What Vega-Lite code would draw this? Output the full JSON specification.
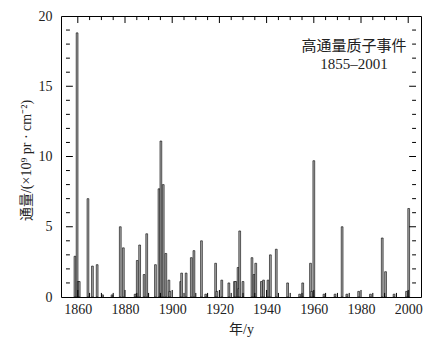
{
  "$schema": "https://vega.github.io/schema/vega-lite/v6.json",
  "width": 360,
  "height": 281,
  "autosize": {"type": "none"},
  "padding": {"left": 61, "top": 16, "right": 7, "bottom": 46},
  "background": "white",
  "config": {
    "view": {"stroke": "#000", "strokeWidth": 1},
    "font": "Liberation Serif, Noto Sans CJK SC",
    "axis": {
      "grid": false,
      "domain": false,
      "ticks": false,
      "labelOverlap": false,
      "labelColor": "#222",
      "labelFont": "Liberation Serif, Noto Sans CJK SC",
      "labelFontSize": 14,
      "titleFont": "Liberation Serif, Noto Sans CJK SC",
      "titleFontSize": 14,
      "titleFontWeight": "normal",
      "titleColor": "#222"
    },
    "rule": {"stroke": "#000", "strokeWidth": 1}
  },
  "datasets": {
    "events": [
      {"year": 1858.8, "flux": 2.9},
      {"year": 1859.7, "flux": 18.8},
      {"year": 1860.2, "flux": 1.1},
      {"year": 1860.6, "flux": 1.1},
      {"year": 1864.3, "flux": 7.0},
      {"year": 1866.2, "flux": 2.2},
      {"year": 1868.2, "flux": 2.3},
      {"year": 1870.5, "flux": 0.15},
      {"year": 1874.5, "flux": 0.15},
      {"year": 1878.0, "flux": 5.0},
      {"year": 1879.3, "flux": 3.5},
      {"year": 1884.3, "flux": 0.2},
      {"year": 1885.2, "flux": 2.6},
      {"year": 1886.2, "flux": 3.7},
      {"year": 1888.1, "flux": 1.6},
      {"year": 1889.2, "flux": 4.5},
      {"year": 1892.9, "flux": 2.3},
      {"year": 1894.4, "flux": 7.7},
      {"year": 1895.2, "flux": 11.1},
      {"year": 1896.2, "flux": 8.0},
      {"year": 1897.3, "flux": 3.1},
      {"year": 1898.6, "flux": 1.2},
      {"year": 1899.0, "flux": 0.4},
      {"year": 1903.6, "flux": 1.1},
      {"year": 1904.0, "flux": 1.7},
      {"year": 1905.9, "flux": 1.7},
      {"year": 1908.1, "flux": 2.8},
      {"year": 1909.2, "flux": 3.3},
      {"year": 1912.4, "flux": 4.0},
      {"year": 1914.2, "flux": 0.2},
      {"year": 1918.4, "flux": 2.4},
      {"year": 1918.9, "flux": 0.4},
      {"year": 1921.0, "flux": 1.2},
      {"year": 1924.0, "flux": 1.0},
      {"year": 1926.4, "flux": 1.1},
      {"year": 1926.9, "flux": 1.1},
      {"year": 1927.9, "flux": 2.1},
      {"year": 1928.2, "flux": 0.6},
      {"year": 1928.6, "flux": 4.7},
      {"year": 1930.0, "flux": 1.1},
      {"year": 1933.8, "flux": 2.8},
      {"year": 1934.7, "flux": 1.6},
      {"year": 1935.4, "flux": 2.4},
      {"year": 1937.8, "flux": 1.1},
      {"year": 1938.7, "flux": 1.2},
      {"year": 1940.6, "flux": 1.2},
      {"year": 1941.6, "flux": 3.0},
      {"year": 1944.1, "flux": 3.4},
      {"year": 1948.9, "flux": 1.0},
      {"year": 1954.0, "flux": 0.2},
      {"year": 1955.3, "flux": 1.0},
      {"year": 1958.6, "flux": 2.4},
      {"year": 1959.1, "flux": 0.4},
      {"year": 1960.0, "flux": 9.7},
      {"year": 1964.3, "flux": 0.2},
      {"year": 1969.0, "flux": 0.2},
      {"year": 1972.0, "flux": 5.0},
      {"year": 1974.0, "flux": 0.2},
      {"year": 1979.0, "flux": 0.4},
      {"year": 1984.0, "flux": 0.2},
      {"year": 1989.0, "flux": 4.2},
      {"year": 1990.4, "flux": 1.8},
      {"year": 1994.0, "flux": 0.2},
      {"year": 1999.3, "flux": 0.4},
      {"year": 2000.2, "flux": 6.3}
    ],
    "xmajor": [
      {"year": 1860}, {"year": 1880}, {"year": 1900}, {"year": 1920},
      {"year": 1940}, {"year": 1960}, {"year": 1980}, {"year": 2000}
    ],
    "xminor": [
      {"year": 1865}, {"year": 1870}, {"year": 1875}, {"year": 1885}, {"year": 1890}, {"year": 1895},
      {"year": 1905}, {"year": 1910}, {"year": 1915}, {"year": 1925}, {"year": 1930}, {"year": 1935},
      {"year": 1945}, {"year": 1950}, {"year": 1955}, {"year": 1965}, {"year": 1970}, {"year": 1975},
      {"year": 1985}, {"year": 1990}, {"year": 1995}
    ],
    "ymajor": [{"flux": 5}, {"flux": 10}, {"flux": 15}],
    "yminor": [
      {"flux": 1}, {"flux": 2}, {"flux": 3}, {"flux": 4}, {"flux": 6}, {"flux": 7}, {"flux": 8}, {"flux": 9},
      {"flux": 11}, {"flux": 12}, {"flux": 13}, {"flux": 14}, {"flux": 16}, {"flux": 17}, {"flux": 18}, {"flux": 19}
    ],
    "notes": [
      {"year": 1977, "flux": 17.9, "label": "高通量质子事件"},
      {"year": 1977, "flux": 16.6, "label": "1855–2001"}
    ]
  },
  "layer": [
    {
      "data": {"name": "events"},
      "mark": {"type": "bar", "orient": "vertical", "size": 1.8, "fill": "#a8a8a8", "stroke": "#000", "strokeWidth": 0.6},
      "encoding": {
        "x": {
          "field": "year", "type": "quantitative",
          "scale": {"domain": [1855, 2003.3], "nice": false, "zero": false},
          "axis": {
            "orient": "bottom",
            "title": "年/y",
            "format": "d",
            "values": [1860, 1880, 1900, 1920, 1940, 1960, 1980, 2000],
            "labelPadding": 5,
            "titlePadding": 6
          }
        },
        "y": {
          "field": "flux", "type": "quantitative",
          "scale": {"domain": [0, 20], "nice": false},
          "axis": {
            "orient": "left",
            "title": "通量/(×10⁹ pr · cm⁻²)",
            "values": [0, 5, 10, 15, 20],
            "labelPadding": 9,
            "titleX": -28,
            "titleY": 144
          }
        }
      }
    },
    {
      "data": {"name": "xmajor"},
      "mark": {"type": "rule"},
      "encoding": {
        "x": {"field": "year", "type": "quantitative", "axis": null},
        "y": {"datum": 0, "type": "quantitative", "axis": null},
        "y2": {"datum": 0.5}
      }
    },
    {
      "data": {"name": "xmajor"},
      "mark": {"type": "rule"},
      "encoding": {
        "x": {"field": "year", "type": "quantitative", "axis": null},
        "y": {"datum": 20, "type": "quantitative", "axis": null},
        "y2": {"datum": 19.5}
      }
    },
    {
      "data": {"name": "xminor"},
      "mark": {"type": "rule"},
      "encoding": {
        "x": {"field": "year", "type": "quantitative", "axis": null},
        "y": {"datum": 0, "type": "quantitative", "axis": null},
        "y2": {"datum": 0.29}
      }
    },
    {
      "data": {"name": "xminor"},
      "mark": {"type": "rule"},
      "encoding": {
        "x": {"field": "year", "type": "quantitative", "axis": null},
        "y": {"datum": 20, "type": "quantitative", "axis": null},
        "y2": {"datum": 19.71}
      }
    },
    {
      "data": {"name": "ymajor"},
      "mark": {"type": "rule"},
      "encoding": {
        "y": {"field": "flux", "type": "quantitative", "axis": null},
        "x": {"datum": 1855, "type": "quantitative", "axis": null},
        "x2": {"datum": 1857.9}
      }
    },
    {
      "data": {"name": "ymajor"},
      "mark": {"type": "rule"},
      "encoding": {
        "y": {"field": "flux", "type": "quantitative", "axis": null},
        "x": {"datum": 2003.3, "type": "quantitative", "axis": null},
        "x2": {"datum": 2000.4}
      }
    },
    {
      "data": {"name": "yminor"},
      "mark": {"type": "rule"},
      "encoding": {
        "y": {"field": "flux", "type": "quantitative", "axis": null},
        "x": {"datum": 1855, "type": "quantitative", "axis": null},
        "x2": {"datum": 1856.65}
      }
    },
    {
      "data": {"name": "yminor"},
      "mark": {"type": "rule"},
      "encoding": {
        "y": {"field": "flux", "type": "quantitative", "axis": null},
        "x": {"datum": 2003.3, "type": "quantitative", "axis": null},
        "x2": {"datum": 2001.65}
      }
    },
    {
      "data": {"name": "notes"},
      "mark": {"type": "text", "fontSize": 15, "color": "#222", "font": "Liberation Serif, Noto Sans CJK SC"},
      "encoding": {
        "x": {"field": "year", "type": "quantitative", "axis": null},
        "y": {"field": "flux", "type": "quantitative", "axis": null},
        "text": {"field": "label"}
      }
    }
  ],
  "resolve": {"axis": {"x": "independent", "y": "independent"}}
}
